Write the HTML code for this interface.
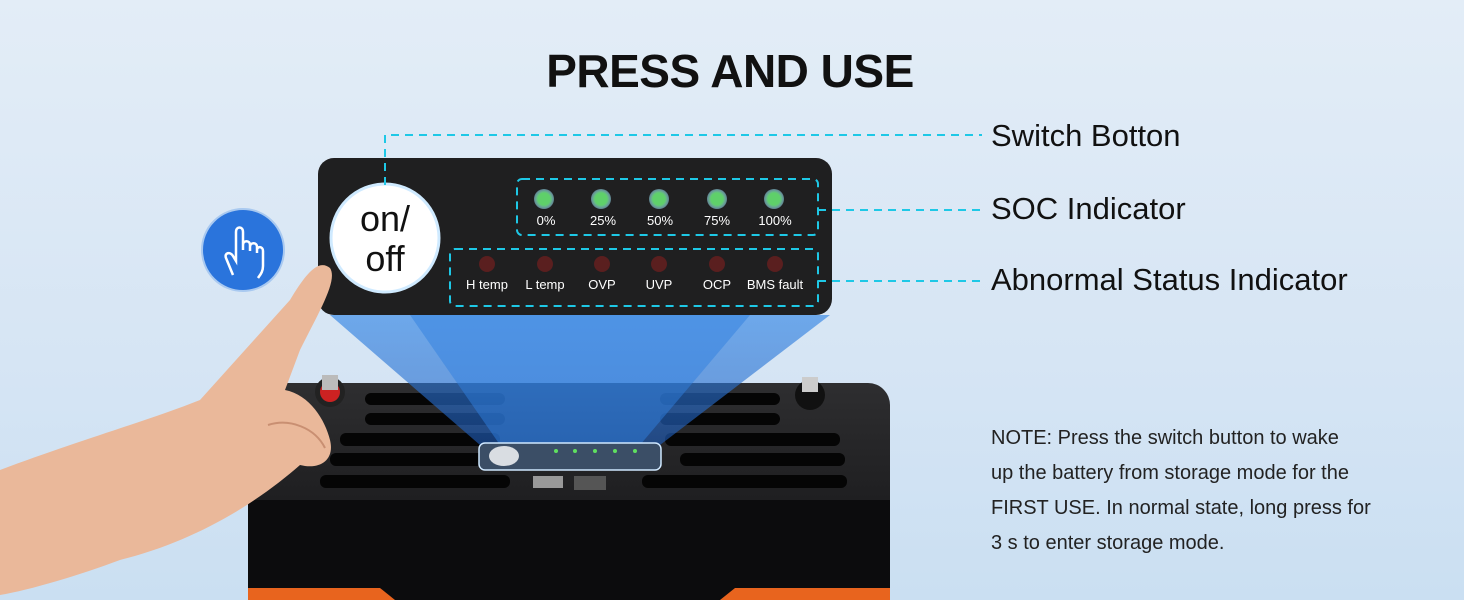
<!DOCTYPE html>
<html><head><style>
body{margin:0;}
#c{position:relative;width:1464px;height:600px;overflow:hidden;background:linear-gradient(180deg,#e3edf7 0%,#d6e5f4 60%,#cadff2 100%);font-family:"Liberation Sans",sans-serif;}
.t{position:absolute;color:#111;}
</style></head><body><div id="c">
<svg width="1464" height="600" style="position:absolute;left:0;top:0">
<defs>
<linearGradient id="beam" x1="0" y1="0" x2="0" y2="1"><stop offset="0" stop-color="#3a8ae6" stop-opacity=".9"/><stop offset="1" stop-color="#1f5fc0" stop-opacity=".8"/></linearGradient>
<linearGradient id="top" x1="0" y1="0" x2="0" y2="1"><stop offset="0" stop-color="#2e2e30"/><stop offset="1" stop-color="#121214"/></linearGradient>
<radialGradient id="glow"><stop offset="0.6" stop-color="#5fd06a"/><stop offset="1" stop-color="#9fe0ff" stop-opacity=".5"/></radialGradient>
</defs>
<rect x="248" y="383" width="642" height="217" rx="22" fill="url(#top)"/>
<rect x="248" y="500" width="642" height="100" fill="#0c0c0d"/>
<path d="M248 588 L380 588 L395 600 L248 600Z" fill="#e8641e"/>
<path d="M890 588 L735 588 L720 600 L890 600Z" fill="#e8641e"/>
<g fill="#050505">
<rect x="365" y="393" width="140" height="12" rx="6"/><rect x="365" y="413" width="140" height="12" rx="6"/>
<rect x="340" y="433" width="160" height="13" rx="6"/><rect x="330" y="453" width="175" height="13" rx="6"/><rect x="320" y="475" width="190" height="13" rx="6"/>
<rect x="660" y="393" width="120" height="12" rx="6"/><rect x="660" y="413" width="120" height="12" rx="6"/>
<rect x="665" y="433" width="175" height="13" rx="6"/><rect x="680" y="453" width="165" height="13" rx="6"/><rect x="642" y="475" width="205" height="13" rx="6"/>
</g>
<circle cx="330" cy="392" r="15" fill="#222"/><circle cx="330" cy="392" r="10" fill="#c22"/><rect x="322" y="375" width="16" height="15" fill="#bbb"/>
<circle cx="810" cy="395" r="15" fill="#111"/><rect x="802" y="377" width="16" height="15" fill="#ccc"/>
<rect x="533" y="476" width="30" height="12" fill="#999"/><rect x="574" y="476" width="32" height="14" fill="#555"/>
<polygon points="330,315 830,315 660,445 480,445" fill="url(#beam)" opacity=".75"/>
<polygon points="410,315 750,315 640,445 500,445" fill="#2f7fe0" opacity=".5"/>
<rect x="479" y="443" width="182" height="27" rx="6" fill="#3b4e66" stroke="#cfe8ff" stroke-width="1.5"/>
<ellipse cx="504" cy="456" rx="15" ry="10" fill="#d9dde2"/>
<g fill="#5fe05f"><circle cx="556" cy="451" r="2"/><circle cx="575" cy="451" r="2"/><circle cx="595" cy="451" r="2"/><circle cx="615" cy="451" r="2"/><circle cx="635" cy="451" r="2"/></g>
<rect x="318" y="158" width="514" height="157" rx="16" fill="#1f1f20"/>
<circle cx="385" cy="238" r="54" fill="#fff" stroke="#cfeaff" stroke-width="3"/>
<g fill="none" stroke="#1ec8e6" stroke-width="2" stroke-dasharray="8,6">
<rect x="517" y="179" width="301" height="56" rx="5"/>
<rect x="450" y="249" width="368" height="57" rx="5"/>
<path d="M385 185 V135 H982"/>
<path d="M818 210 H980"/>
<path d="M818 281 H980"/>
</g>
<g fill="url(#glow)"><circle cx="544" cy="199" r="10"/><circle cx="601" cy="199" r="10"/><circle cx="659" cy="199" r="10"/><circle cx="717" cy="199" r="10"/><circle cx="774" cy="199" r="10"/></g>
<g fill="#5a1f1f"><circle cx="487" cy="264" r="8"/><circle cx="545" cy="264" r="8"/><circle cx="602" cy="264" r="8"/><circle cx="659" cy="264" r="8"/><circle cx="717" cy="264" r="8"/><circle cx="775" cy="264" r="8"/></g>
<g fill="#fff" font-size="13" text-anchor="middle" font-family="Liberation Sans,sans-serif">
<text x="546" y="225">0%</text><text x="603" y="225">25%</text><text x="660" y="225">50%</text><text x="717" y="225">75%</text><text x="775" y="225">100%</text>
<text x="487" y="289">H temp</text><text x="545" y="289">L temp</text><text x="602" y="289">OVP</text><text x="659" y="289">UVP</text><text x="717" y="289">OCP</text><text x="775" y="289">BMS fault</text>
</g>
<text x="385" y="231" text-anchor="middle" font-size="36" fill="#111" font-family="Liberation Sans,sans-serif">on/</text>
<text x="385" y="271" text-anchor="middle" font-size="36" fill="#111" font-family="Liberation Sans,sans-serif">off</text>
<path d="M0 470 C80 440 150 420 200 400 L290 300 C305 275 318 258 330 268 C338 280 320 310 300 350 L285 390 C310 395 325 420 330 440 C335 460 320 470 300 465 C260 500 200 540 120 560 C80 575 30 590 0 595Z" fill="#eab89a"/>
<path d="M268 425 C290 418 315 428 325 448" stroke="#c98f72" stroke-width="2" fill="none"/>
<circle cx="243" cy="250" r="41" fill="#2a74dc" stroke="#a9c9f0" stroke-width="2"/>
<path d="M233 275 L226 258 C224 253 230 251 233 256 L236 261 V232 C236 226 243 226 243 232 V250 V245 C243 240 250 240 250 245 V251 V247 C250 242 257 242 257 247 V253 V250 C257 246 263 246 263 251 V266 C263 272 260 275 258 278" fill="none" stroke="#fff" stroke-width="2.5"/>
</svg>
<div class="t" style="left:0;width:1460px;text-align:center;top:44px;font-size:46px;font-weight:bold;letter-spacing:-0.5px;">PRESS AND USE</div>
<div class="t" style="left:991px;top:118px;font-size:31px;">Switch Botton</div>
<div class="t" style="left:991px;top:191px;font-size:31px;">SOC Indicator</div>
<div class="t" style="left:991px;top:262px;font-size:31px;">Abnormal Status Indicator</div>
<div class="t" style="left:991px;top:421px;font-size:20px;line-height:35px;white-space:nowrap;color:#222;">NOTE: Press the switch button to wake<br>up the battery from storage mode for the<br>FIRST USE. In normal state, long press for<br>3 s to enter storage mode.</div>
</div></body></html>
